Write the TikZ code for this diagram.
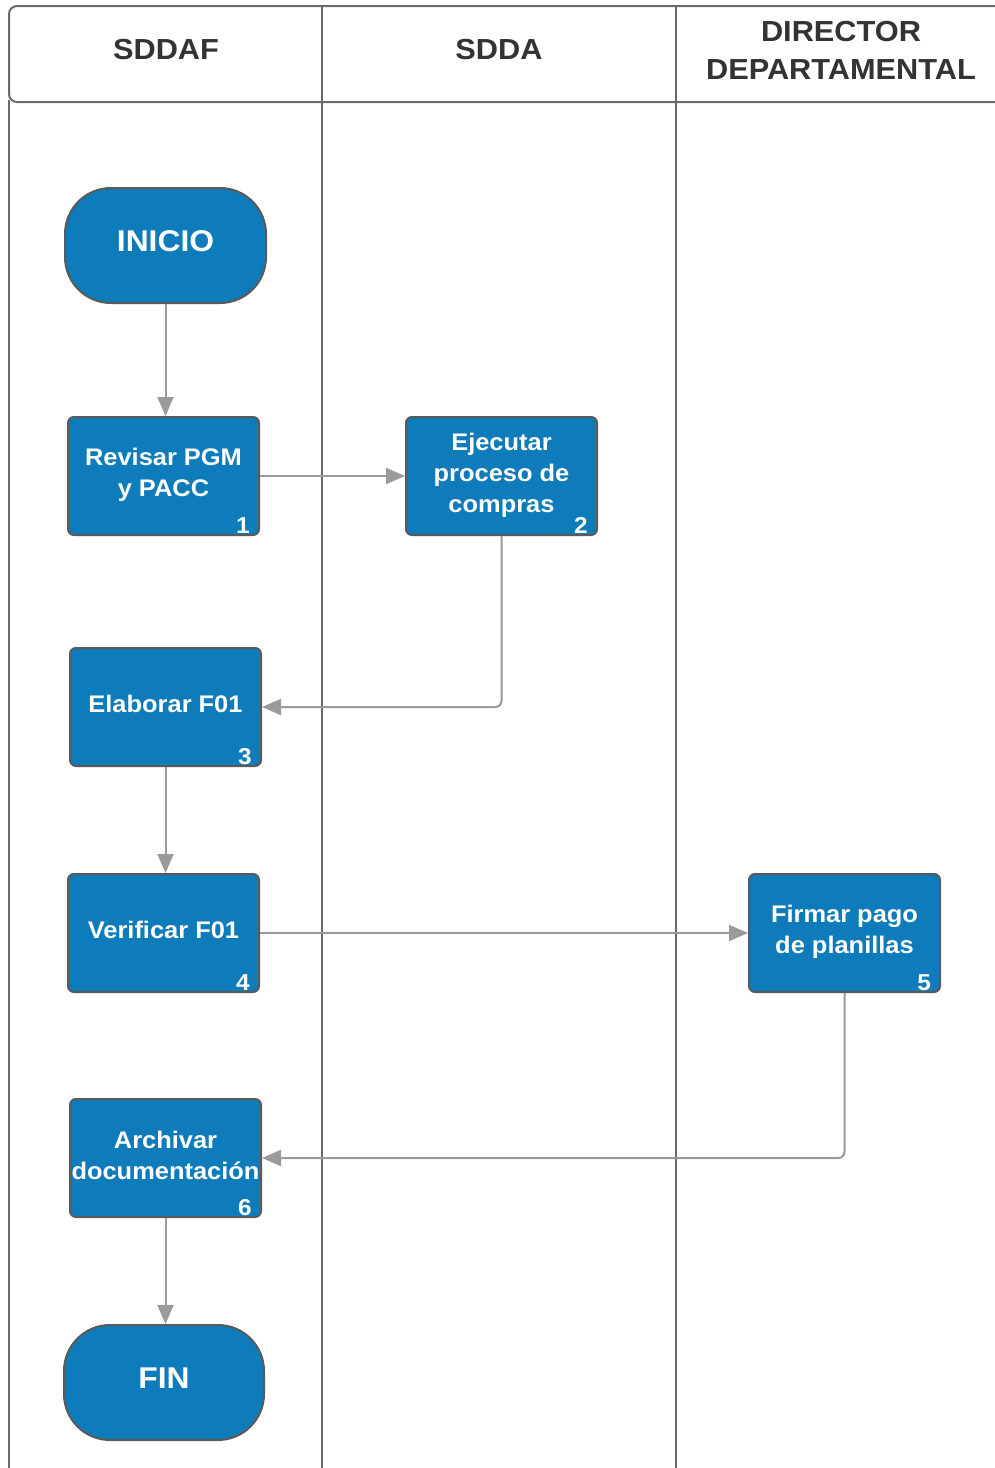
\documentclass[tikz,border=0pt]{standalone}
\usepackage{fontspec}
\setmainfont{Liberation Sans}[FakeStretch=1.06]
\usetikzlibrary{arrows.meta}
\definecolor{boxblue}{HTML}{0E7BBB}
\definecolor{boxborder}{HTML}{5A5A5A}
\definecolor{laneline}{HTML}{6A6A6A}
\definecolor{conngray}{HTML}{9A9A9A}
\definecolor{headtext}{HTML}{333333}
\tikzset{
  lane/.style={draw=laneline, line width=2pt},
  headlabel/.style={text=headtext, font=\bfseries\fontsize{29}{38}\selectfont, align=center, inner sep=0pt},
  procbox/.style={draw=boxborder, line width=2pt, fill=boxblue, rounded corners=6pt,
    minimum width=191pt, minimum height=118pt, inner sep=0pt},
  boxtext/.style={text=white, align=center, inner sep=0pt,
    font=\bfseries\fontsize{24}{31}\selectfont},
  termbox/.style={draw=boxborder, line width=2pt, fill=boxblue, rounded corners=46pt,
    minimum width=201pt, minimum height=115pt, inner sep=0pt},
  termtext/.style={text=white, inner sep=0pt, font=\bfseries\fontsize{30}{36}\selectfont},
  numlabel/.style={text=white, font=\bfseries\fontsize{23}{26}\selectfont, inner sep=0pt, anchor=base east},
  conn/.style={draw=conngray, line width=2pt, -{Triangle[length=19pt, width=16pt]}, rounded corners=6pt}
}
\begin{document}
\begin{tikzpicture}[x=1pt, y=-1pt]
\useasboundingbox (0,0) rectangle (994,1468);
% lanes
\draw[lane, rounded corners=8pt] (996,6) -- (9,6) -- (9,102) -- (996,102);
\draw[lane] (9,100) -- (9,1470);
\draw[lane] (322,6) -- (322,1470);
\draw[lane] (676,6) -- (676,1470);
% headers
\node[headlabel] (h1) at (166,50) {SDDAF};
\node[headlabel] (h2) at (499,50) {SDDA};
\node[headlabel] (h3) at (841,50) {DIRECTOR\\DEPARTAMENTAL};
% nodes
\node[termbox] (ini) at (165.5,245.5) {};
\node[procbox] (b1) at (163.5,476) {};
\node[procbox] (b2) at (501.5,476) {};
\node[procbox] (b3) at (165.5,707) {};
\node[procbox] (b4) at (163.5,933) {};
\node[procbox] (b5) at (844.5,933) {};
\node[procbox] (b6) at (165.5,1158) {};
\node[termbox, minimum width=200pt] (fin) at (164,1382.5) {};
% texts
\node[termtext] (tini) at ([yshift=4pt]ini.center) {INICIO};
\node[boxtext] (t1) at ([yshift=1pt]b1.center) {Revisar PGM\\y PACC};
\node[boxtext] (t2) at ([yshift=1pt]b2.center) {Ejecutar\\proceso de\\compras};
\node[boxtext] (t3) at ([yshift=3pt]b3.center) {Elaborar F01};
\node[boxtext] (t4) at ([yshift=3pt]b4.center) {Verificar F01};
\node[boxtext] (t5) at ([yshift=1pt]b5.center) {Firmar pago\\de planillas};
\node[boxtext] (t6) at ([yshift=3pt]b6.center) {Archivar\\documentación};
\node[termtext] (tfin) at ([yshift=4pt]fin.center) {FIN};
% numbers
\node[numlabel] (n1) at ([xshift=-10pt, yshift=3pt]b1.south east) {1};
\node[numlabel] (n2) at ([xshift=-10pt, yshift=3pt]b2.south east) {2};
\node[numlabel] (n3) at ([xshift=-10pt, yshift=3pt]b3.south east) {3};
\node[numlabel] (n4) at ([xshift=-10pt, yshift=3pt]b4.south east) {4};
\node[numlabel] (n5) at ([xshift=-10pt, yshift=3pt]b5.south east) {5};
\node[numlabel] (n6) at ([xshift=-10pt, yshift=3pt]b6.south east) {6};
% connectors
\draw[conn] (ini.south) -- (b1.north -| ini.south);
\draw[conn] (b1.east) -- (b2.west);
\draw[conn] (b2.south) |- (b3.east);
\draw[conn] (b3.south) -- (b4.north -| b3.south);
\draw[conn] (b4.east) -- (b5.west);
\draw[conn] (b5.south) |- (b6.east);
\draw[conn] (b6.south) -- (fin.north -| b6.south);
\end{tikzpicture}
\end{document}
